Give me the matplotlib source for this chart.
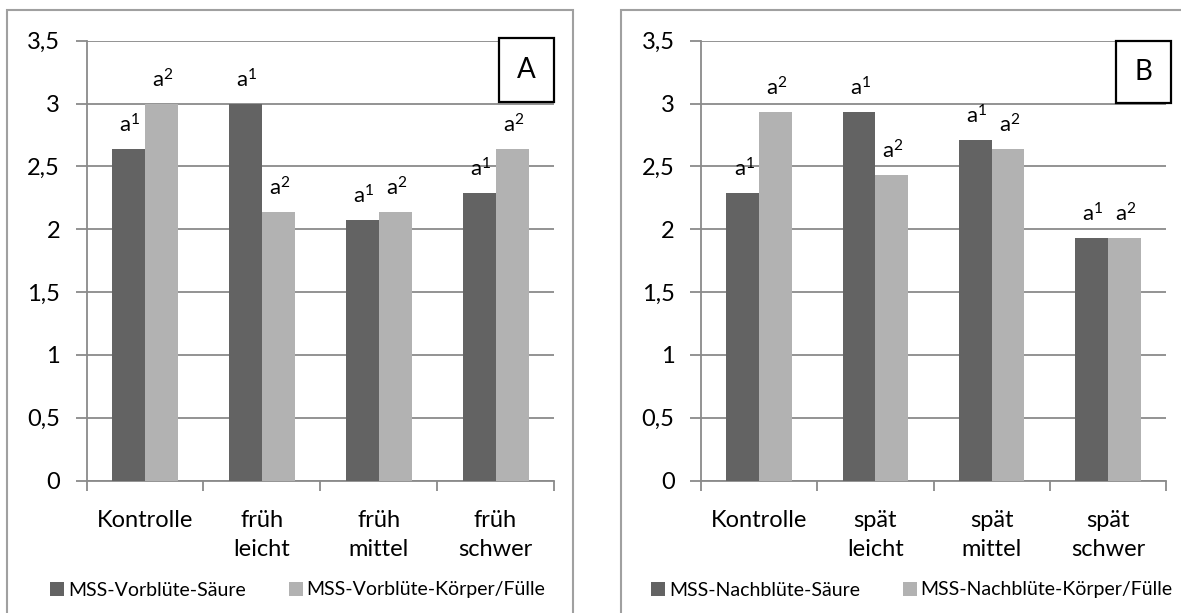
import matplotlib.pyplot as plt
from matplotlib.patches import Rectangle

plt.rcParams['font.family'] = ['Lato', 'DejaVu Sans']
plt.rcParams['mathtext.fontset'] = 'custom'
plt.rcParams['mathtext.rm'] = 'Lato'
plt.rcParams['mathtext.it'] = 'Lato'
plt.rcParams['mathtext.default'] = 'regular'

# data
cats_a = ['Kontrolle', 'früh\nleicht', 'früh\nmittel', 'früh\nschwer']
cats_b = ['Kontrolle', 'spät\nleicht', 'spät\nmittel', 'spät\nschwer']
saeure_a = [2.64, 3.00, 2.07, 2.29]
koerper_a = [3.00, 2.14, 2.14, 2.64]
saeure_b = [2.29, 2.93, 2.71, 1.93]
koerper_b = [2.93, 2.43, 2.64, 1.93]
labels_a = ['MSS-Vorblüte-Säure', 'MSS-Vorblüte-Körper/Fülle']
labels_b = ['MSS-Nachblüte-Säure', 'MSS-Nachblüte-Körper/Fülle']
yticks = [0, 0.5, 1, 1.5, 2, 2.5, 3, 3.5]
ytick_labels = ['0', '0,5', '1', '1,5', '2', '2,5', '3', '3,5']

DARK = '#636363'
LIGHT = '#b2b2b2'
GRID = '#8a8a8a'
W, H = 1181, 613

fig = plt.figure(figsize=(W / 100, H / 100), dpi=100)


def px(x0, y0, x1, y1):
    """pixel box (top-left origin) -> figure fraction rect"""
    return [x0 / W, 1 - y1 / H, (x1 - x0) / W, (y1 - y0) / H]


def panel(rect, cats, s1, s2, labels, letter, legend_x, box):
    ax = fig.add_axes(rect)
    x = range(len(cats))
    bw = 0.282
    b1 = ax.bar([i - bw / 2 for i in x], s1, bw, color=DARK, zorder=3, label=labels[0])
    b2 = ax.bar([i + bw / 2 for i in x], s2, bw, color=LIGHT, zorder=3, label=labels[1])
    for bars, sup in ((b1, 'a$^{1}$'), (b2, 'a$^{2}$')):
        for r in bars:
            ax.annotate(sup, (r.get_x() + r.get_width() / 2, r.get_height()),
                        xytext=(1, 9), textcoords='offset points',
                        ha='center', va='bottom', fontsize=16)

    ax.set_xlim(-0.5, len(cats) - 0.5)
    ax.set_ylim(0, 3.5)
    ax.set_yticks(yticks)
    ax.set_yticklabels(ytick_labels)
    ax.yaxis.grid(True, color=GRID, lw=1.3, zorder=0)
    ax.set_axisbelow(True)

    # boundary ticks as major, category names as minor
    ax.set_xticks([i - 0.5 for i in range(len(cats) + 1)])
    ax.set_xticklabels([])
    ax.set_xticks(list(x), minor=True)
    ax.set_xticklabels(cats, minor=True, fontsize=17, linespacing=1.45)
    ax.tick_params(axis='x', which='minor', length=0, pad=21)
    ax.tick_params(axis='x', which='major', length=7, width=1.3, color=GRID)
    ax.tick_params(axis='y', length=8, width=1.3, color=GRID, pad=11, labelsize=17)

    for s in ('top', 'right'):
        ax.spines[s].set_visible(False)
    for s in ('left', 'bottom'):
        ax.spines[s].set_color(GRID)
        ax.spines[s].set_linewidth(1.3)

    # letter box
    fig.add_artist(Rectangle((box[0] / W, 1 - box[3] / H),
                             (box[2] - box[0]) / W, (box[3] - box[1]) / H,
                             transform=fig.transFigure, facecolor='white',
                             edgecolor='black', lw=1.6, zorder=5))
    fig.text((box[0] + box[2]) / 2 / W, 1 - (box[1] + box[3]) / 2 / H, letter,
             ha='center', va='center', fontsize=20, zorder=6)

    fig.legend(handles=[b1, b2], labels=labels, ncol=2, frameon=False,
               loc='center', bbox_to_anchor=(legend_x / W, 1 - 590 / H),
               fontsize=14, handlelength=0.72, handleheight=0.72,
               handletextpad=0.2, columnspacing=2.2)
    return ax


# outer panel frames
fig.add_artist(Rectangle((7 / W, -0.1), (573 - 7) / W, 1 - 10 / H + 0.1,
                         transform=fig.transFigure, fill=False,
                         edgecolor='#a0a0a0', lw=1.5))
fig.add_artist(Rectangle((621 / W, -0.1), (W + 20 - 621) / W, 1 - 10 / H + 0.1,
                         transform=fig.transFigure, fill=False,
                         edgecolor='#a0a0a0', lw=1.5))

panel(px(86.5, 40.7, 554, 480.7), cats_a, saeure_a, koerper_a, labels_a, 'A',
      298, (499, 38, 554, 102))
panel(px(701, 40.7, 1166, 480.7), cats_b, saeure_b, koerper_b, labels_b, 'B',
      912, (1116, 41, 1171, 103))

fig.savefig('out.png', dpi=100)
